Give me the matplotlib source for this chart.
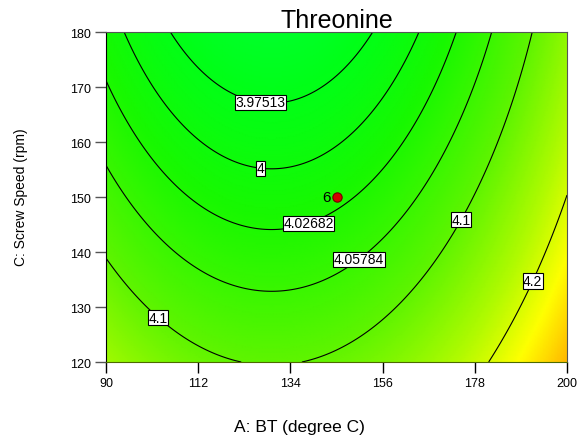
import numpy as np
import matplotlib
matplotlib.use('Agg')
import matplotlib.pyplot as plt
from matplotlib.colors import LinearSegmentedColormap

plt.rcParams['font.family'] = ['Liberation Sans', 'DejaVu Sans']

# fitted quadratic surface for Threonine
bt_center = 129.5
speed_center = 150.0
b0 = 4.012
b_speed = -0.002417
b_speed2 = 1.5e-5
b_bt2 = 3.8e-5

contour_levels = [3.97513, 4.0, 4.02682, 4.05784, 4.1, 4.2]
label_spots = [(127, 168), (127, 156), (138, 146), (150, 139),
               (174.5, 146), (103, 128.5), (192.5, 134.5)]

design_bt = [145]
design_speed = [150]
design_labels = ['6']

x_ticks = [90, 112, 134, 156, 178, 200]
y_ticks = [120, 130, 140, 150, 160, 170, 180]

# colour stops (response value, colour) like the Design-Expert map
color_values = [3.93, 3.97, 4.02, 4.10, 4.17, 4.23, 4.28, 4.32]
color_hex = ['#00ff40', '#00ff18', '#18f800', '#60f400',
             '#b0fa00', '#ffff00', '#ffc000', '#ff9000']


def threonine(bt, speed):
    u = speed - speed_center
    return b0 + b_speed * u + b_speed2 * u ** 2 + b_bt2 * (bt - bt_center) ** 2


lo, hi = color_values[0], color_values[-1]
stops = [((v - lo) / (hi - lo), c) for v, c in zip(color_values, color_hex)]
cmap = LinearSegmentedColormap.from_list('de', stops)

bt = np.linspace(90, 200, 300)
speed = np.linspace(120, 180, 200)
BT, SP = np.meshgrid(bt, speed)
Z = threonine(BT, SP)

fig = plt.figure(figsize=(5.77, 4.39), dpi=100)
ax = fig.add_axes([0.1837, 0.1731, 0.799, 0.7517])

ax.pcolormesh(BT, SP, Z, cmap=cmap, vmin=lo, vmax=hi, shading='gouraud')
cs = ax.contour(BT, SP, Z, levels=contour_levels, colors='black', linewidths=0.8)
labels = ax.clabel(cs, fmt='%g', manual=label_spots, inline=False, fontsize=10)
for t in labels:
    t.set_rotation(0)
    t.set_bbox(dict(facecolor='white', edgecolor='black', linewidth=0.8, pad=0.4))

ax.scatter(design_bt, design_speed, s=45, color='#d40000', edgecolors='#700000',
           linewidths=0.8, zorder=5)
for x, y, lab in zip(design_bt, design_speed, design_labels):
    ax.text(x - 1.4, y, lab, ha='right', va='center', fontsize=11, zorder=5)

ax.set_xlim(90, 200)
ax.set_ylim(120, 180)
ax.set_xticks(x_ticks)
ax.set_yticks(y_ticks)
ax.tick_params(axis='x', direction='out', length=8, width=1, color='black',
               labelsize=9, pad=3)
ax.tick_params(axis='y', direction='out', length=8, width=1, color='#555555',
               labelsize=9, pad=3)
for side in ['top', 'right']:
    ax.spines[side].set_color('#555555')
ax.spines['bottom'].set_color('#4d6a00')
ax.spines['left'].set_color('black')

ax.set_title('Threonine', fontsize=18, pad=1)
ax.set_xlabel('A: BT (degree C)', fontsize=12.5, va='center')
ax.xaxis.set_label_coords(0.42, -0.194)
ax.set_ylabel('C: Screw Speed (rpm)', fontsize=10, va='center')
ax.yaxis.set_label_coords(-0.184, 0.503)

fig.savefig('out.png', dpi=100)
